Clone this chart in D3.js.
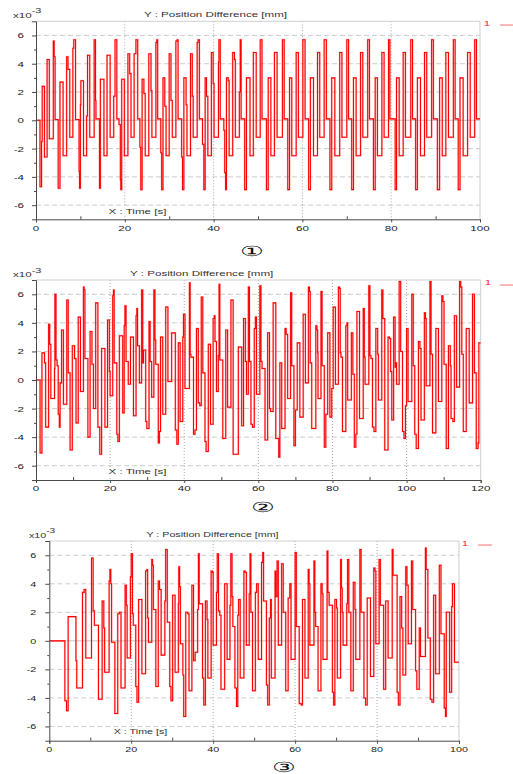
<!DOCTYPE html>
<html>
<head>
<meta charset="utf-8">
<script src="https://cdn.jsdelivr.net/npm/d3@7"></script>
<style>
  body { margin: 0; background: #fff; }
  svg { display: block; }
  text { font-family: "Liberation Sans", Arial, sans-serif; }
</style>
</head>
<body>
<svg id="chart" width="513" height="774"></svg>
<script>
// ---- data: step changes of the position difference (x1e-3 mm) over time (s) ----
const times1 = [0, 0.9, 1.25, 1.4, 1.9, 2.5, 3.0, 3.9, 4.1, 4.3, 5.0, 5.4, 6.1, 6.9, 7.2, 7.6, 8.3, 8.5, 8.9, 9.7, 9.8, 10.0, 10.1, 10.7, 11.4, 11.6, 12.1, 13.1, 13.4, 13.5, 14.3, 14.5, 15.3, 16.0, 16.7, 17.5, 17.8, 18.2, 18.7, 19.0, 19.1, 19.3, 19.9, 20.7, 21.1, 21.4, 22.1, 22.5, 22.9, 23.4, 23.6, 23.9, 24.3, 24.6, 25.4, 25.9, 26.1, 27.0, 27.2, 27.4, 28.1, 28.3, 28.6, 29.0, 29.3, 30.0, 30.4, 30.7, 31.5, 31.8, 32.0, 32.8, 33.0, 33.3, 33.8, 34.0, 34.8, 35.2, 35.4, 36.3, 36.5, 36.8, 37.5, 37.8, 38.1, 38.4, 38.7, 39.5, 39.9, 40.1, 41.1, 41.2, 41.5, 42.3, 42.5, 42.7, 42.9, 43.3, 43.5, 44.3, 44.7, 44.9, 45.8, 46.0, 46.2, 47.0, 47.4,
  48.2, 48.95, 49.6, 50.5, 50.9,
  51.9, 52.3, 52.9, 53.7, 54.3, 55.5, 55.9,
  56.7, 57.1, 57.6, 58.6, 59.1, 60.1, 60.6,
  61.4, 61.8, 62.5, 63.4, 63.9, 64.9, 65.4,
  66.2, 66.6, 67.3, 68.4, 68.9, 70.0, 70.4,
  71.1, 71.5, 72.1, 73.1, 73.6, 74.7, 75.1,
  76.0, 76.4, 76.9, 77.9, 78.4, 79.4, 79.7,
  80.9, 81.2, 81.8, 82.7, 83.2, 84.4, 84.8,
  85.5, 85.9, 86.6, 87.5, 88.0, 89.1, 89.5,
  90.4, 90.9, 91.5, 92.3, 92.9, 94.0, 94.4,
  95.1, 95.5, 96.2, 97.2, 97.8, 98.8, 99.2];
const values1 = [0, -4.7, -1.5, 2.4, -2.6, 4.3, -1.3, 5.6, 4.5, 0.05, -4.8, 2.7, -2.5, 4.5, 3.6, -1.2, 5.1, 5.7, 0.05, -3.6, -4.8, 1.1, 2.8, -2.5, 0.3, 4.6, -1.2, 5.7, 1.4, 0.1, -4.8, 2.9, -2.5, 4.6, -1.2, 1.7, 5.7, 0.1, -0.3, -4.2, -4.9, 2.9, -2.5, 4.7, 3.3, -1.2, 4.7, 5.7, 0.1, -1.9, -4.9, 2.9, 1.9, -2.5, 4.7, 2.1, -1.2, 5.5, 5.7, 0.1, -2.3, -4.9, 3.0, 1.0, -2.5, 4.7, 1.4, -1.2, 5.6, 5.7, 0.1, -2.6, -4.9, 3.0, 1.1, -2.5, 4.7, 1.7, -1.2, 5.5, 5.7, 0.1, -1.7, -4.9, 3.0, 1.7, -2.5, 4.8, 2.6, -1.2, 4.1, 5.7, 0.1, -0.7, -3.7, -4.9, 3.0, 2.8, -2.5, 4.8, 4.3, -1.2, 2.0, 5.7, 0.1, -4.9, 3.0,
  -2.5, 4.8, -1.2, 5.7, 0.1,
  -4.9, 3.0, -2.5, 4.8, -1.2, 5.7, 0.1,
  -4.9, 3.0, -2.5, 4.8, -1.2, 5.7, 0.1,
  -4.9, 3.0, -2.5, 4.8, -1.2, 5.7, 0.1,
  -4.9, 3.0, -2.5, 4.8, -1.2, 5.7, 0.1,
  -4.9, 3.0, -2.5, 4.8, -1.2, 5.7, 0.1,
  -4.9, 3.0, -2.5, 4.8, -1.2, 5.7, 0.1,
  -4.9, 3.0, -2.5, 4.8, -1.2, 5.7, 0.1,
  -4.9, 3.0, -2.5, 4.8, -1.2, 5.7, 0.1,
  -4.9, 3.0, -2.5, 4.8, -1.2, 5.7, 0.1,
  -4.9, 3.0, -2.5, 4.8, -1.2, 5.7, 0.1];

const times2 = [0, 1.1, 1.6, 2.3, 2.6, 3.4, 3.7, 4.0, 5.0, 5.1, 5.4, 5.7, 6.0, 6.3, 6.5, 6.9, 7.4, 8.3, 8.7, 9.2, 9.8, 10.4, 10.8, 11.4, 12.0, 12.8, 13.0, 13.2, 14.0, 14.6, 15.1, 15.5, 16.1, 16.7, 17.2, 17.7, 18.6, 19.3, 19.8, 20.0, 20.7, 20.9, 21.1, 21.8, 22.1, 22.5, 23.4, 23.8, 24.0, 24.3, 24.9, 25.5, 26.3, 27.0, 27.2, 27.4, 27.9, 28.5, 28.8, 29.0, 29.6, 29.9, 30.5, 30.8, 31.2, 31.8, 32.1, 32.3, 33.0, 33.3, 33.6, 34.2, 35.0, 35.6, 36.6, 37.6, 38.0, 38.4, 38.9, 39.6, 39.8, 40.2, 41.4, 41.6, 41.8, 42.5, 42.9, 43.3, 43.8, 44.2, 44.6, 45.0, 45.6, 45.9, 46.5, 47.1, 47.8, 48.1, 48.3, 48.7, 49.2, 49.4, 49.6, 50.4, 51.2, 51.7, 52.6, 53.2, 54.6, 55.5, 56.0, 56.5, 56.8, 57.3, 57.6, 58.0, 58.4, 58.9, 59.2, 59.5, 60.4, 60.7, 61.0, 61.8, 62.5, 63.0, 63.3, 64.0, 64.7, 65.5, 65.8, 66.3, 67.2, 67.5, 67.9, 68.7, 69.0, 69.6, 70.0, 70.5, 71.2, 72.1, 72.7, 73.5, 73.8, 74.0, 74.4, 75.5, 75.8, 76.0, 76.1, 76.9, 77.2, 77.8, 78.2, 78.7, 79.3, 79.8, 80.2, 80.8, 81.6, 81.9, 82.1, 82.3, 82.7, 83.6, 83.9, 84.1, 85.1, 85.5, 85.9, 86.3, 86.6, 87.3, 88.3, 88.6, 88.8, 89.8, 90.1, 90.4, 90.8, 91.2, 91.7, 92.2, 92.4, 93.3, 93.6, 94.1, 95.0, 95.4, 95.7, 96.0, 96.5, 96.9, 97.1, 97.3, 98.0, 98.4, 98.9, 99.3, 99.7, 100.0, 100.4, 101.4, 101.8, 102.2, 102.6, 103.2, 103.6, 103.9, 104.8, 105.1, 105.3, 106.3, 106.6, 107.0, 107.9, 108.6, 109.5, 109.8, 110.1, 110.7, 111.3, 111.8, 112.0, 112.5, 112.9, 113.5, 114.3, 114.6, 114.9, 115.3, 116.1, 116.9, 117.8, 118.3, 118.8, 119.3, 119.5];
const values2 = [0, -5.1, 1.9, 1.2, -3.3, 3.9, 2.5, -1.3, 0.8, 6.0, 1.4, 1.0, -2.4, -3.3, -0.2, 3.5, -1.7, 5.6, 0.5, -4.9, 2.4, 1.5, -3.0, 4.4, -0.8, 6.5, 6.3, 1.5, -4.0, 3.4, 1.1, -2.0, 5.4, -3.3, -5.2, 2.2, -3.3, 4.2, 0.6, -1.1, 5.9, 6.3, 1.2, -3.8, -4.3, 3.1, -2.3, 3.8, 5.2, 1.3, -0.3, 3.0, -2.5, 4.5, 5.0, 2.4, -0.2, 6.3, 1.2, 2.1, -2.9, -3.4, 4.1, 1.3, -1.2, 6.3, 2.8, 1.1, -4.4, -3.6, 3.0, -2.4, 5.1, -0.1, 3.3, -3.5, -4.5, 2.6, -2.9, 3.0, 4.6, -0.6, 6.8, 1.8, 1.6, -3.8, -3.5, 3.6, -1.6, -1.8, 5.8, 0.5, -4.3, -5.0, 2.5, -3.1, 4.3, 4.5, 2.7, -0.8, 1.7, 6.7, 1.4, -4.1, 3.5, -1.9, 5.6, -5.2, 2.3, -3.2, 4.3, 1.3, -1.0, 6.5, 1.3, -3.1, -3.3, 3.6, 4.4, -1.0, 6.6, 1.3, 0.8, -4.2, 3.3, -2.0, -2.2, 5.4, -4.1, -5.4, 1.2, -3.4, 3.6, 3.2, -1.3, 6.1, 1.0, -4.6, -2.1, 2.6, -2.6, 4.6, -0.2, 6.5, 6.2, 1.2, -3.4, 3.8, 3.5, 1.9, -1.3, 6.2, 1.0, -4.7, -2.4, 3.3, -2.6, -0.6, 5.1, -0.3, 6.5, 6.4, 1.9, 1.6, -3.6, 3.8, 4.0, -1.4, 3.3, 0.4, -4.7, -3.8, 4.8, -2.7, 5.0, 1.6, -0.3, 6.6, 1.7, 1.5, -3.3, -3.6, 3.6, 1.8, -1.4, 6.3, 4.3, -4.9, 3.0, 2.9, 0.6, -2.8, 4.4, 0.9, 1.2, -0.3, 6.9, 2.0, -3.6, -4.1, -1.8, 3.6, -1.5, 6.0, 1.0, -3.8, -4.8, 2.7, 2.2, -2.8, 4.7, 4.3, -0.4, 6.9, 1.8, -3.7, 3.6, -1.5, 5.9, 5.5, 1.1, -4.8, 2.4, 1.0, -2.7, -2.9, 4.5, -0.5, 6.9, 6.5, 1.8, -3.6, 3.6, -1.6, 6.0, 0.5, -4.8, -4.4, 2.6];

const times3 = [0, 3.8, 4.2, 4.6, 6.5, 6.7, 8.1, 8.5, 8.9, 10.3, 10.7, 11.0, 12.0, 12.9, 13.3, 13.5, 14.6, 14.8, 15.0, 15.2, 16.0, 16.7, 17.1, 17.5, 18.5, 18.8, 19.0, 19.8, 20.0, 20.3, 20.5, 21.1, 21.4, 21.8, 22.6, 23.5, 23.8, 24.0, 24.2, 25.0, 25.2, 25.4, 26.0, 26.6, 26.9, 27.3, 28.2, 28.4, 28.8, 29.4, 29.7, 30.1, 30.7, 31.5, 31.6, 31.8, 32.0, 32.6, 32.8, 33.3, 33.8, 34.1, 34.8, 35.2, 35.6, 36.2, 36.4, 36.6, 37.4, 37.7, 38.1, 38.5, 38.7, 39.5, 39.8, 40.0, 40.8, 41.0, 41.3, 41.6, 41.9, 42.8, 43.4, 44.1, 44.3, 44.6, 44.8, 45.3, 45.7, 46.0, 46.2, 46.6, 47.5, 47.8, 48.1, 48.8, 49.0, 49.2, 49.6, 50.3, 50.6, 51.0, 51.8, 52.1, 52.3, 53.0, 53.3, 53.7, 54.0, 54.2, 55.1, 55.3, 55.6, 55.9, 56.7, 57.1, 57.7, 58.3, 58.7, 59.0, 60.0, 60.3, 61.0, 61.5, 61.8, 62.4, 63.2, 63.4, 63.6, 64.6, 64.8, 65.0, 65.6, 66.3, 66.6, 66.8, 67.8, 68.0, 68.3, 69.1, 69.4, 69.7, 70.1, 70.3, 71.1, 71.3, 71.5, 71.7, 72.6, 72.8, 73.1, 73.6, 74.2, 74.6, 74.8, 75.8, 76.1, 76.8, 77.2, 77.6, 78.4, 79.2, 79.5, 79.7, 80.5, 80.8, 81.6, 82.1, 82.7, 83.7, 83.9, 84.9, 85.2, 85.6, 86.0, 86.3, 87.0, 87.3, 87.6, 88.4, 88.7, 89.4, 89.7, 90.3, 90.6, 91.8, 92.0, 92.4, 93.0, 93.4, 93.8, 94.3, 95.2, 95.6, 96.4, 96.7, 96.9, 97.7, 98.2, 98.4, 98.9];
const values3 = [0, -4.2, -4.9, 1.7, -1.4, -3.3, 3.4, 3.6, -1.2, 5.8, 2.1, 1.1, -4.1, 2.8, 0.9, -2.2, 4.2, 5.0, 4.0, -0.1, -5.1, 1.9, 2.0, -3.3, 3.9, 2.5, -1.2, 4.5, 6.1, 1.9, 1.1, -3.2, -4.3, 2.9, -2.3, 4.9, 5.0, 1.6, -0.1, 5.7, 5.3, 2.2, -3.2, 4.2, 3.6, -1.0, 2.8, 6.4, 1.3, -3.2, -4.2, 3.2, -2.2, 2.6, 5.2, 3.8, -0.2, -2.4, -5.3, 2.0, 1.9, -3.5, 3.9, -1.4, -0.8, 2.2, 6.1, 2.6, -2.6, -4.5, 2.8, 1.5, -2.6, 4.9, 4.8, -0.3, 3.4, 6.1, 2.1, 1.8, -3.4, 4.0, -1.3, 2.5, 6.1, 3.1, 1.0, -3.3, -4.6, 1.8, 2.9, -2.6, 4.9, 4.8, -0.3, 3.3, 6.1, 2.0, -3.5, 3.4, 4.0, -1.3, 5.5, 6.2, 2.8, -3.1, -4.5, 1.6, 2.9, -2.6, 4.9, 3.1, 5.6, -0.3, 5.4, 2.0, -3.5, 3.0, 4.0, -1.3, 6.2, 1.0, -4.4, -4.5, 2.9, -2.6, 5.0, 4.0, -0.3, 5.6, 2.0, 1.0, -3.5, 4.0, 3.3, -1.3, 6.3, 3.4, 2.5, -3.6, -4.5, 2.9, 2.3, -2.6, 5.7, 3.7, 2.0, -0.3, 2.6, 5.7, 2.0, -3.5, 4.1, 2.2, -1.3, 6.4, 2.0, -4.0, -4.5, 3.0, -2.5, 5.1, 4.9, -0.2, 5.7, 2.5, -3.4, 2.8, -1.2, 6.4, 4.6, -3.6, -4.5, 3.1, 0.9, -2.4, 5.2, 3.9, -0.2, 5.6, 2.2, -2.1, -3.4, 0.9, -1.1, 6.5, 5.0, 0.2, -4.1, -4.3, 3.2, -2.3, 5.3, 0.5, -4.7, -5.3, 2.0, -3.6, 2.4, 4.0, -1.5];

// ---- axis ticks and texts ----
const xTicks1 = [0, 20, 40, 60, 80, 100];
const xTicks2 = [0, 20, 40, 60, 80, 100, 120];
const xTicks3 = [0, 20, 40, 60, 80, 100];
const yTicks = [-6, -4, -2, 0, 2, 4, 6];
const yDomain = [-7, 7];
const yTitle = "Y : Position Difference [mm]";
const xTitle = "X : Time [s]";
const expBase = "x10";
const expPower = "-3";
const seriesName = "1";
const panelMarks = ["①", "②", "③"];

// ---- panel layout ----
const layout = [
  { left: 36, right: 480, top: 21.3, bottom: 219.3, xMax: 100, sx: 1.45,
    titleX: 215.5, titleY: 17.3, expX: 13, expY: 17.5, xLabX: 137.5, xLabY: 214,
    yLabGap: 12, markX: 252, markY: 251.5,
    legTX: 487, legTY: 26, legX1: 500, legX2: 513, legY: 25 },
  { left: 36, right: 480.7, top: 280, bottom: 480, xMax: 120, sx: 1.45,
    titleX: 201.7, titleY: 276, expX: 13, expY: 277, xLabX: 137.5, xLabY: 474,
    yLabGap: 12, markX: 263, markY: 507.5,
    legTX: 488, legTY: 285, legX1: 500, legX2: 513, legY: 285 },
  { left: 49.3, right: 459, top: 541, bottom: 740.7, xMax: 100, sx: 1.34,
    titleX: 212.5, titleY: 536.7, expX: 29, expY: 537.5, xLabX: 140.5, xLabY: 734,
    yLabGap: 13, markX: 283.5, markY: 767.5,
    legTX: 465, legTY: 546, legX1: 478, legX2: 492, legY: 545 }
];
const series = [
  { times: times1, values: values1, xTicks: xTicks1 },
  { times: times2, values: values2, xTicks: xTicks2 },
  { times: times3, values: values3, xTicks: xTicks3 }
];

const svg = d3.select("#chart");

function stretchedText(g, x, y, sx, txt) {
  return g.append("text")
    .attr("transform", `translate(${x},${y}) scale(${sx},1)`)
    .text(txt);
}

series.forEach((s, i) => {
  const L = layout[i];
  const x = d3.scaleLinear().domain([0, L.xMax]).range([L.left, L.right]);
  const y = d3.scaleLinear().domain(yDomain).range([L.bottom, L.top]);
  const g = svg.append("g");

  const clipId = "clip" + i;
  svg.append("clipPath").attr("id", clipId)
    .append("rect").attr("x", L.left).attr("y", L.top)
    .attr("width", L.right - L.left).attr("height", L.bottom - L.top);

  // horizontal dashed grid
  g.selectAll(".hgrid").data(yTicks.filter(v => v !== 0)).join("line")
    .attr("x1", L.left).attr("x2", L.right)
    .attr("y1", d => y(d)).attr("y2", d => y(d))
    .attr("stroke", "#cdcdcd").attr("stroke-width", 1)
    .attr("stroke-dasharray", "5,3");
  g.append("line")
    .attr("x1", L.left).attr("x2", L.right)
    .attr("y1", y(0)).attr("y2", y(0))
    .attr("stroke", "#c4c4c4").attr("stroke-width", 1);

  // vertical dotted grid at inner major ticks
  const inner = s.xTicks.filter(v => v > 0 && v < L.xMax);
  g.selectAll(".vgrid").data(inner).join("line")
    .attr("x1", d => x(d)).attr("x2", d => x(d))
    .attr("y1", L.top).attr("y2", L.bottom)
    .attr("stroke", "#a8a8a8").attr("stroke-width", 1)
    .attr("stroke-dasharray", "1,2");

  // light frame on top and right
  g.append("path")
    .attr("d", `M${L.left},${L.top}H${L.right}V${L.bottom}`)
    .attr("fill", "none").attr("stroke", "#cfcfcf").attr("stroke-width", 1);

  // step signal: soft halo plus crisp core
  const pts = s.times.map((t, k) => [t, s.values[k]]);
  pts.push([L.xMax, s.values[s.values.length - 1]]);
  const line = d3.line().x(d => x(d[0])).y(d => y(d[1])).curve(d3.curveStepAfter);
  g.append("path").datum(pts)
    .attr("clip-path", `url(#${clipId})`)
    .attr("d", line)
    .attr("fill", "none").attr("stroke", "#ff3030").attr("stroke-width", 1.9)
    .attr("stroke-opacity", 0.3);
  g.append("path").datum(pts)
    .attr("clip-path", `url(#${clipId})`)
    .attr("d", line)
    .attr("fill", "none").attr("stroke", "#ff0000").attr("stroke-width", 1.05);

  // x axis label with white backing
  const xl = stretchedText(g, L.xLabX, L.xLabY, L.sx, xTitle)
    .attr("text-anchor", "middle").attr("font-size", 8).attr("fill", "#333");
  const bb = xl.node().getBBox();
  g.insert("rect", function () { return xl.node(); })
    .attr("x", L.xLabX - bb.width * L.sx / 2 - 2).attr("y", L.xLabY - 7)
    .attr("width", bb.width * L.sx + 4).attr("height", 9).attr("fill", "#fff");

  // axes
  const xAxis = d3.axisBottom(x).tickValues(s.xTicks).tickSize(3).tickFormat("");
  const gx = g.append("g").attr("transform", `translate(0,${L.bottom})`).call(xAxis);
  const xMinor = d3.range(10, L.xMax, 20);
  const gxm = g.append("g").attr("transform", `translate(0,${L.bottom})`)
    .call(d3.axisBottom(x).tickValues(xMinor).tickSize(-3).tickFormat(""));
  gxm.select(".domain").remove();
  const yAxis = d3.axisLeft(y).tickValues(yTicks).tickSize(4).tickFormat("");
  const gy = g.append("g").attr("transform", `translate(${L.left},0)`).call(yAxis);
  const yMinor = [-5, -3, -1, 1, 3, 5];
  const gym = g.append("g").attr("transform", `translate(${L.left},0)`)
    .call(d3.axisLeft(y).tickValues(yMinor).tickSize(2).tickFormat(""));
  gym.select(".domain").remove();
  [gx, gxm, gy, gym].forEach(a => a.selectAll("path,line").attr("stroke", "#4a4a4a"));

  // tick labels
  s.xTicks.forEach(v => {
    stretchedText(g, x(v), L.bottom + 11.3, L.sx, String(v))
      .attr("text-anchor", "middle").attr("font-size", 8).attr("fill", "#222");
  });
  yTicks.forEach(v => {
    stretchedText(g, L.left - L.yLabGap, y(v) + 3, L.sx, String(v))
      .attr("text-anchor", "end").attr("font-size", 8).attr("fill", "#222");
  });

  // exponent and title
  const ex = g.append("text")
    .attr("transform", `translate(${L.expX},${L.expY}) scale(${L.sx},1)`)
    .attr("font-size", 8).attr("fill", "#333");
  ex.append("tspan").text(expBase);
  ex.append("tspan").attr("dy", -4.5).attr("font-size", 7.5).text(expPower);
  stretchedText(g, L.titleX, L.titleY, L.sx, yTitle)
    .attr("text-anchor", "middle").attr("font-size", 8).attr("fill", "#333");

  // legend
  stretchedText(g, L.legTX, L.legTY, L.sx, seriesName)
    .attr("text-anchor", "middle").attr("font-size", 8).attr("fill", "#ff2020");
  g.append("line").attr("x1", L.legX1).attr("x2", L.legX2)
    .attr("y1", L.legY).attr("y2", L.legY)
    .attr("stroke", "#ff7070").attr("stroke-width", 1);

  // panel mark
  g.append("text")
    .attr("transform", `translate(${L.markX},${L.markY}) scale(1.9,1)`)
    .attr("text-anchor", "middle").attr("dominant-baseline", "central")
    .attr("font-family", "'DejaVu Sans', sans-serif")
    .attr("font-size", 14).attr("fill", "#111")
    .text(panelMarks[i]);
});
</script>
</body>
</html>
